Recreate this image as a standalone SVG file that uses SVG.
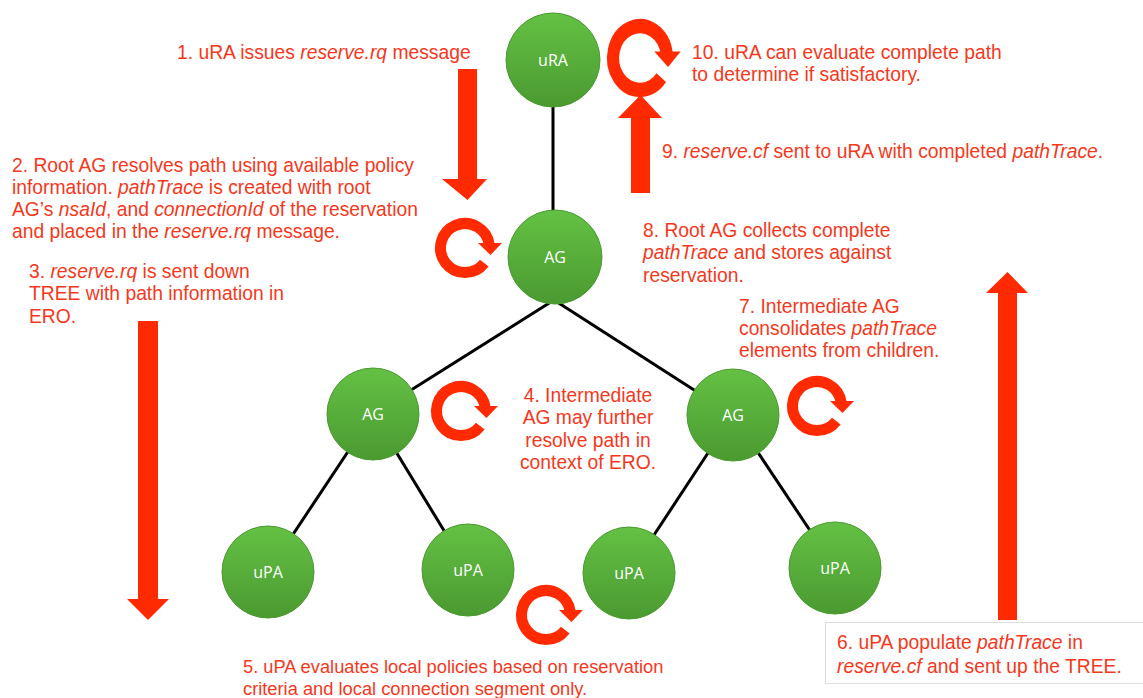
<svg xmlns="http://www.w3.org/2000/svg" width="1143" height="698" viewBox="0 0 1143 698">
<defs>
<linearGradient id="g" x1="0" y1="0" x2="0" y2="1">
<stop offset="0" stop-color="#64c144"/>
<stop offset="1" stop-color="#4a9a30"/>
</linearGradient>
<g id="cyc">
<path d="M 19.3 15.1 A 24.5 24.5 0 1 1 24.26 -3.41" fill="none" stroke="#ff2a00" stroke-width="11"/>
<polygon points="13,-5 37,-5 25.5,7" fill="#ff2a00"/>
</g>
</defs>
<style>
.t{font-family:"Liberation Sans",Arial,sans-serif;font-size:19.3px;fill:#f5381c}
.s{font-size:18.3px}
.i{font-style:italic}
.n{fill:url(#g);stroke:#4b9a31;stroke-width:1}
.l{font-family:"Open Sans","Liberation Sans",sans-serif;font-size:16px;fill:#ffffff;text-anchor:middle}
.c{stroke:#000;stroke-width:3;fill:none}
.a{fill:#ff2a00}
</style>
<rect width="1143" height="698" fill="#ffffff"/>
<g id="connectors">
<line class="c" x1="553" y1="100" x2="553" y2="220"/>
<line class="c" x1="554" y1="300" x2="373" y2="414"/>
<line class="c" x1="554" y1="300" x2="733" y2="415"/>
<line class="c" x1="373" y1="414" x2="268" y2="572"/>
<line class="c" x1="373" y1="414" x2="468" y2="570"/>
<line class="c" x1="733" y1="415" x2="629" y2="573"/>
<line class="c" x1="733" y1="415" x2="835" y2="568"/>
</g>
<g id="node-ura"><circle class="n" cx="553" cy="60" r="47"/><text class="l" x="553" y="66">uRA</text></g>
<g id="node-ag-root"><circle class="n" cx="555" cy="257" r="47"/><text class="l" x="555" y="263">AG</text></g>
<g id="node-ag-left"><circle class="n" cx="373" cy="414" r="46"/><text class="l" x="373" y="420">AG</text></g>
<g id="node-ag-right"><circle class="n" cx="733" cy="415" r="46"/><text class="l" x="733" y="421">AG</text></g>
<g id="node-upa1"><circle class="n" cx="268" cy="572" r="46"/><text class="l" x="268" y="578">uPA</text></g>
<g id="node-upa2"><circle class="n" cx="468" cy="570" r="46"/><text class="l" x="468" y="576">uPA</text></g>
<g id="node-upa3"><circle class="n" cx="629" cy="573" r="46"/><text class="l" x="629" y="579">uPA</text></g>
<g id="node-upa4"><circle class="n" cx="835" cy="568" r="46"/><text class="l" x="835" y="574">uPA</text></g>
<g id="arrows">
<polygon class="a" points="458,69 477,69 477,179 487,179 467.5,200 442,179 458,179"/>
<polygon class="a" points="631,193 650,193 650,118 662,118 640.5,95 618,118 631,118"/>
<polygon class="a" points="138,321 158,321 158,599 169,599 148,620 127,599 138,599"/>
<polygon class="a" points="998,620 1017,620 1017,293 1028,293 1007.5,272 986,293 998,293"/>
<use href="#cyc" transform="translate(640,58) scale(1.1,1.3)"/>
<use href="#cyc" transform="translate(465,248)"/>
<use href="#cyc" transform="translate(461,411)"/>
<use href="#cyc" transform="translate(817,406)"/>
<use href="#cyc" transform="translate(546,615)"/>
</g>
<rect x="825.5" y="622.5" width="330" height="61" fill="#ffffff" stroke="#dddddd" stroke-width="1"/>
<g id="labels">
<text class="t" x="177" y="59">1. uRA issues <tspan class="i">reserve.rq</tspan> message</text>
<text class="t" x="12" y="172">2. Root AG resolves path using available policy</text>
<text class="t" x="12" y="194">information.  <tspan class="i">pathTrace</tspan> is created with root</text>
<text class="t" x="12" y="216">AG’s <tspan class="i">nsaId</tspan>, and <tspan class="i">connectionId</tspan> of the reservation</text>
<text class="t" x="12" y="238">and placed in the <tspan class="i">reserve.rq</tspan> message.</text>
<text class="t" x="29" y="278">3. <tspan class="i">reserve.rq</tspan> is sent down</text>
<text class="t" x="29" y="300">TREE with path information in</text>
<text class="t" x="29" y="323">ERO.</text>
<text class="t" x="692" y="59">10. uRA can evaluate complete path</text>
<text class="t" x="692" y="81">to determine if satisfactory.</text>
<text class="t" x="662" y="158">9. <tspan class="i">reserve.cf</tspan> sent to uRA with completed <tspan class="i">pathTrace</tspan>.</text>
<text class="t" x="643" y="237">8. Root AG collects complete</text>
<text class="t" x="643" y="259"><tspan class="i">pathTrace</tspan> and stores against</text>
<text class="t" x="643" y="282">reservation.</text>
<text class="t" x="739" y="313">7. Intermediate AG</text>
<text class="t" x="739" y="335">consolidates <tspan class="i">pathTrace</tspan></text>
<text class="t" x="739" y="357">elements from children.</text>
<text class="t" x="588" y="402" text-anchor="middle">4. Intermediate</text>
<text class="t" x="588" y="424" text-anchor="middle">AG may further</text>
<text class="t" x="588" y="447" text-anchor="middle">resolve path in</text>
<text class="t" x="588" y="469" text-anchor="middle">context of ERO.</text>
<text class="t s" x="243" y="673">5. uPA evaluates local policies based on reservation</text>
<text class="t s" x="243" y="695">criteria and local connection segment only.</text>
<text class="t" x="837" y="649">6. uPA populate <tspan class="i">pathTrace</tspan> in</text>
<text class="t" x="837" y="673"><tspan class="i">reserve.cf</tspan> and sent up the TREE.</text>
</g>
</svg>
